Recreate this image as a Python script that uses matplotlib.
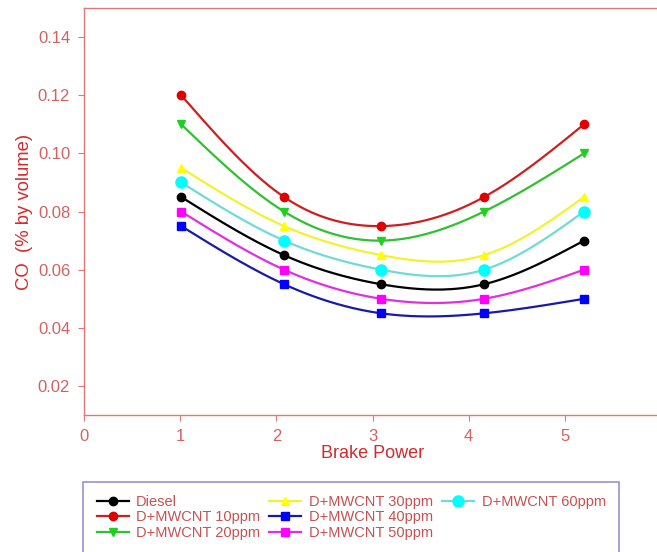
import numpy as np
import matplotlib
matplotlib.use('Agg')
import matplotlib.pyplot as plt

plt.rcParams['font.family'] = ['Liberation Sans', 'DejaVu Sans']

# data
brake_power = [1.01, 2.08, 3.09, 4.16, 5.2]
diesel = [0.085, 0.065, 0.055, 0.055, 0.070]
mw10 = [0.120, 0.085, 0.075, 0.085, 0.110]
mw20 = [0.110, 0.080, 0.070, 0.080, 0.100]
mw30 = [0.095, 0.075, 0.065, 0.065, 0.085]
mw40 = [0.075, 0.055, 0.045, 0.045, 0.050]
mw50 = [0.080, 0.060, 0.050, 0.050, 0.060]
mw60 = [0.090, 0.070, 0.060, 0.060, 0.080]

labels = ['Diesel', 'D+MWCNT 10ppm', 'D+MWCNT 20ppm', 'D+MWCNT 30ppm',
          'D+MWCNT 40ppm', 'D+MWCNT 50ppm', 'D+MWCNT 60ppm']
series = [diesel, mw10, mw20, mw30, mw40, mw50, mw60]
line_colors = ['#000000', '#cc2020', '#30c030', '#f2f230', '#1a1aa8', '#e030e0', '#70dada']
marker_colors = ['#000000', '#e00000', '#20d020', '#ffff00', '#0000ff', '#ff00ff', '#00ffff']
markers = ['o', 'o', 'v', '^', 's', 's', 'o']
msizes = [6, 6, 6, 6, 5.5, 5.5, 8]


def spline(x, y, n=200):
    # natural cubic spline, used only to draw the smooth line
    x = np.asarray(x, float)
    y = np.asarray(y, float)
    k = len(x)
    h = np.diff(x)
    A = np.zeros((k, k))
    b = np.zeros(k)
    A[0, 0] = A[-1, -1] = 1
    for i in range(1, k - 1):
        A[i, i - 1] = h[i - 1]
        A[i, i] = 2 * (h[i - 1] + h[i])
        A[i, i + 1] = h[i]
        b[i] = 6 * ((y[i + 1] - y[i]) / h[i] - (y[i] - y[i - 1]) / h[i - 1])
    M = np.linalg.solve(A, b)
    xs = np.linspace(x[0], x[-1], n)
    idx = np.clip(np.searchsorted(x, xs) - 1, 0, k - 2)
    x0, x1 = x[idx], x[idx + 1]
    hh = x1 - x0
    ys = (M[idx] * (x1 - xs) ** 3 / (6 * hh) + M[idx + 1] * (xs - x0) ** 3 / (6 * hh)
          + (y[idx] / hh - M[idx] * hh / 6) * (x1 - xs)
          + (y[idx + 1] / hh - M[idx + 1] * hh / 6) * (xs - x0))
    return xs, ys


fig = plt.figure(figsize=(6.57, 5.52), dpi=100)
ax = fig.add_axes([0.128, 0.248, 0.878, 0.7375])

handles = []
for y, lab, lc, mc, mk, ms in zip(series, labels, line_colors, marker_colors, markers, msizes):
    xs, ys = spline(brake_power, y)
    ax.plot(xs, ys, color=lc, lw=1.6)
    ax.plot(brake_power, y, ls='none', marker=mk, ms=ms, color=mc, mec=mc)
    h, = ax.plot([], [], color=lc, lw=1.6, marker=mk, ms=ms, mfc=mc, mec=mc, label=lab)
    handles.append(h)

# two empty slots so the legend columns fill 3 / 3 / 1
blank = [plt.Line2D([], [], color='none', label=' ') for _ in range(2)]

spine_col = '#e07878'
tick_col = '#d26262'
label_col = '#d42a2a'

ax.set_xlim(0, 6)
ax.set_ylim(0.01, 0.15)
ax.set_xticks([0, 1, 2, 3, 4, 5, 6])
ax.set_yticks([0.02, 0.04, 0.06, 0.08, 0.10, 0.12, 0.14])
ax.set_yticklabels(['0.02', '0.04', '0.06', '0.08', '0.10', '0.12', '0.14'])
for s in ax.spines.values():
    s.set_color(spine_col)
    s.set_linewidth(1.0)
ax.tick_params(colors=spine_col, labelcolor=tick_col, labelsize=12, direction='out', length=4)
ax.tick_params(axis='x', pad=6)
ax.tick_params(axis='y', pad=6)

ax.set_xlabel('Brake Power', color=label_col, fontsize=13, labelpad=1)
ax.set_ylabel('CO  (% by volume)', color=label_col, fontsize=13.3)
ax.yaxis.set_label_coords(-0.088, 0.5)

leg = fig.legend(handles=handles + blank, ncol=3, loc='upper left',
                 bbox_to_anchor=(0.127, 0.0, 0.815, 0.127), mode='expand',
                 fontsize=10.5, frameon=True, fancybox=False, edgecolor='#7a78c8',
                 labelspacing=0.1, handlelength=2.2, handletextpad=0.5,
                 columnspacing=0.6, borderpad=0.9, borderaxespad=0)
leg.get_frame().set_linewidth(1.2)
for t in leg.get_texts():
    t.set_color('#c85050')

fig.savefig('out.png', dpi=100)
